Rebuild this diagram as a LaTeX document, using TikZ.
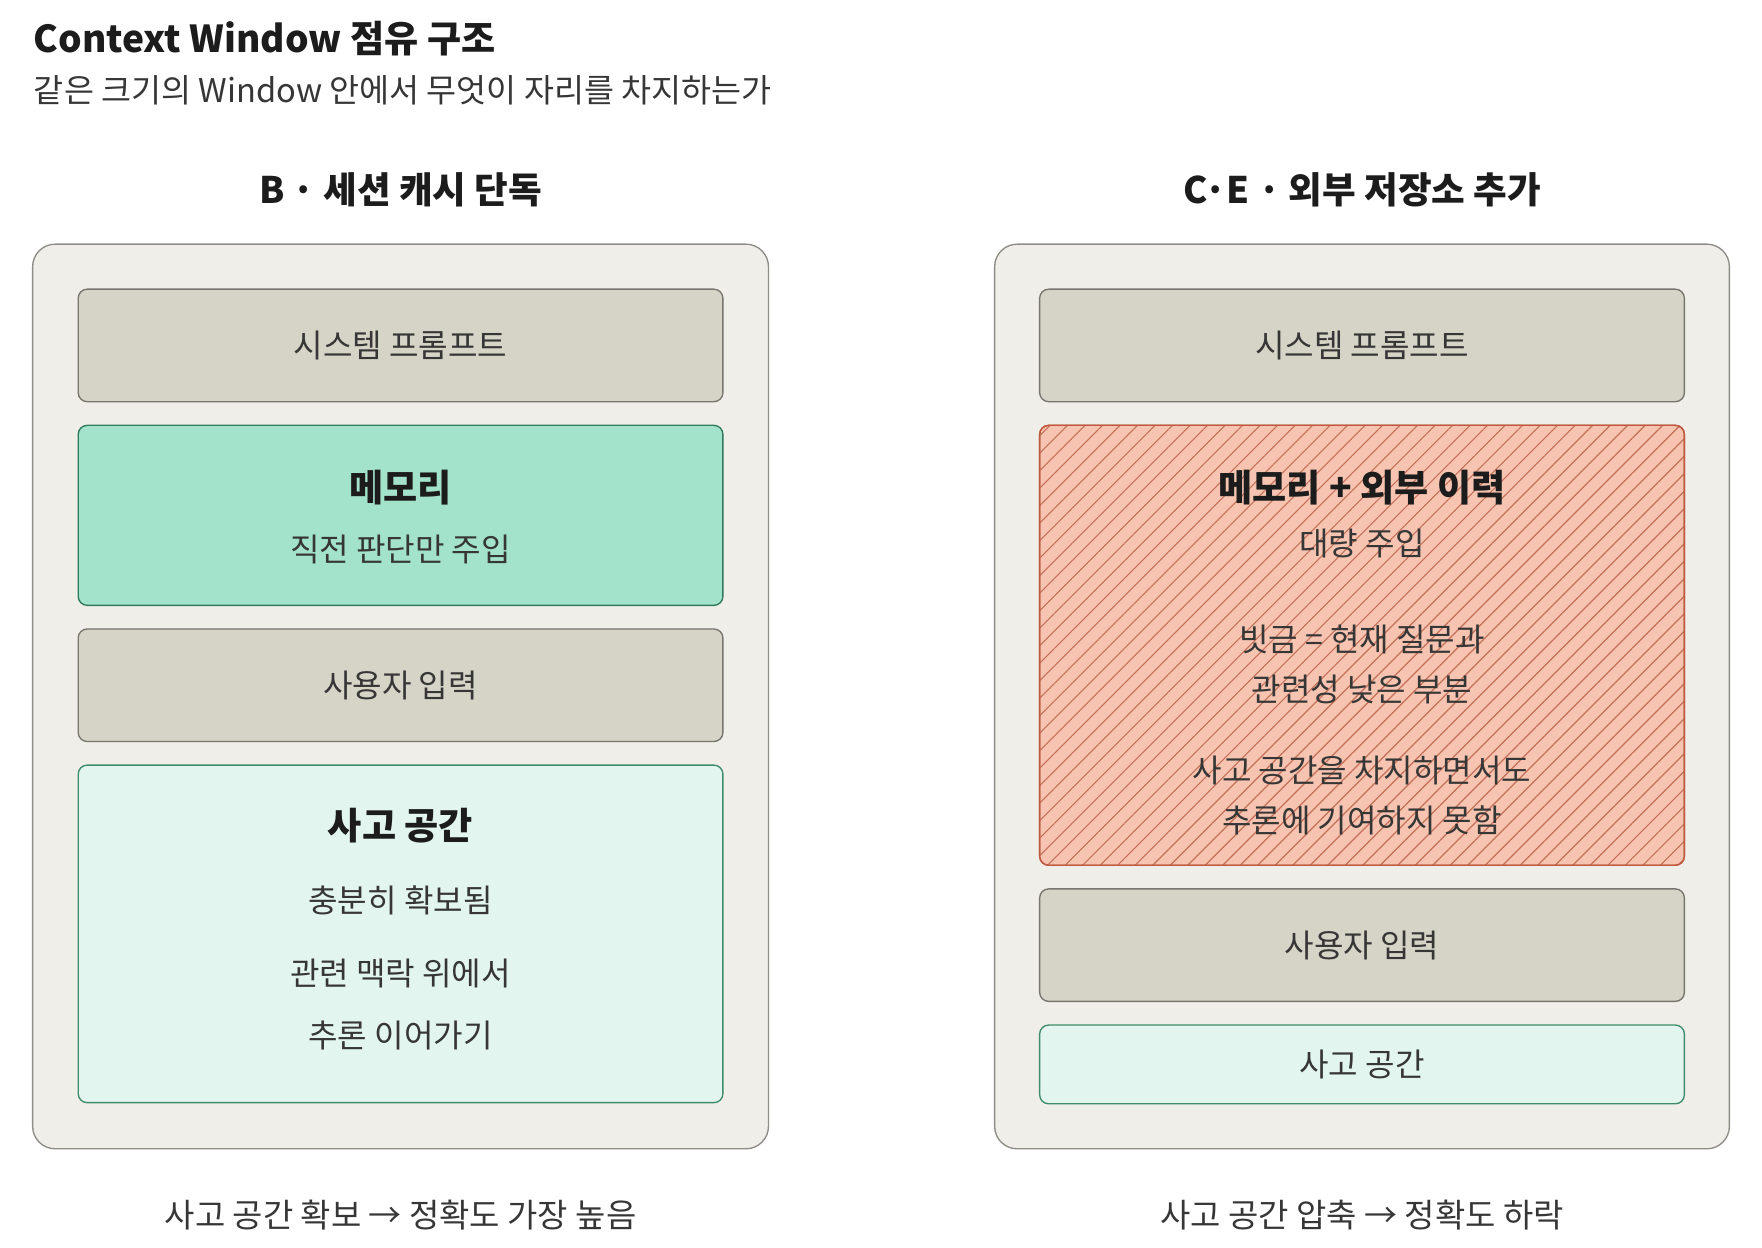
\documentclass[tikz,border=0pt]{standalone}
\usepackage{fontspec}
\setmainfont{Noto Sans CJK KR}
\usetikzlibrary{positioning,patterns.meta}
\definecolor{winfill}{HTML}{F0EEE9}
\definecolor{winline}{HTML}{8E8C86}
\definecolor{fixfill}{HTML}{D6D3C7}
\definecolor{fixline}{HTML}{77756E}
\definecolor{memfill}{HTML}{A3E3CB}
\definecolor{memline}{HTML}{2F7A5C}
\definecolor{thkfill}{HTML}{E2F5EE}
\definecolor{thkline}{HTML}{3E8C6C}
\definecolor{noisefill}{HTML}{F6C4B1}
\definecolor{noiseline}{HTML}{BF5A40}
\definecolor{hatch}{HTML}{C56F58}
\definecolor{txt}{HTML}{363636}
\definecolor{head}{HTML}{1C1C1C}

\begin{document}
\begin{tikzpicture}[x=1pt,y=1pt,
node distance=21pt,
    win/.style = {rectangle, draw=winline, fill=winfill, line width=1.2pt,
                  rounded corners=20pt, minimum width=654pt, minimum height=804pt,
                  outer sep=0pt},
    blk/.style = {rectangle, line width=1.2pt, rounded corners=8pt,% blocks inside a window
                  minimum width=573pt, inner sep=0pt, outer sep=0pt,
                  text=txt, font=\fontsize{28.5}{32}\selectfont},
  fixed/.style = {blk, draw=fixline, fill=fixfill},
    mem/.style = {blk, draw=memline, fill=memfill},
  think/.style = {blk, draw=thkline, fill=thkfill},
  noise/.style = {blk, draw=noiseline, fill=noisefill,
                  postaction={pattern={Lines[angle=45,distance=11pt,line width=1pt]},
                              pattern color=hatch},
                  postaction={draw=noiseline, line width=1.2pt}},
   bold/.style = {text=head, font=\fontsize{33}{37}\selectfont\bfseries},
   body/.style = {text=txt, font=\fontsize{28.5}{32}\selectfont},
 column/.style = {text=head, font=\fontsize{32.5}{37}\selectfont\bfseries},
                        ]
\useasboundingbox (0,0) rectangle (1566,-1109);
% title
\node (title) [anchor=base west, inner sep=0pt, text=head,
               font=\fontsize{33}{38}\selectfont\bfseries] at (30,-47) {Context Window 점유 구조};
\node (sub) [anchor=base west, inner sep=0pt, text=txt,
             font=\fontsize{29}{33}\selectfont] at (30,-91) {같은 크기의 Window 안에서 무엇이 자리를 차지하는가};
% left window
\node (WB) [win] at (356,-619) {};
\node (HB) [column, anchor=base] at (356,-181) {B · 세션 캐시 단독};
\node (B1) [fixed, minimum height=100pt, below=40pt of WB.north] {시스템 프롬프트};
\node (B2) [mem, minimum height=160pt, below=of B1] {};
\node (B3) [fixed, minimum height=100pt, below=of B2] {사용자 입력};
\node (B4) [think, minimum height=300pt, below=of B3] {};
\node (B2a) [bold] at ([yshift=-55pt] B2.north) {메모리};
\node (B2b) [body] at ([yshift=-110pt] B2.north) {직전 판단만 주입};
\node (B4a) [bold] at ([yshift=-54pt] B4.north) {사고 공간};
\node (B4b) [body] at ([yshift=-120pt] B4.north) {충분히 확보됨};
\node (B4c) [body] at ([yshift=-185pt] B4.north) {관련 맥락 위에서};
\node (B4d) [body] at ([yshift=-240pt] B4.north) {추론 이어가기};
\node (FB) [body, font=\fontsize{29.3}{33}\selectfont] at (356,-1080) {사고 공간 확보 → 정확도 가장 높음};
% right window
\node (WC) [win, minimum width=653pt] at (1210.5,-619) {};
\node (HC) [column, anchor=base] at (1210.5,-181) {C·E · 외부 저장소 추가};
\node (C1) [fixed, minimum height=100pt, below=40pt of WC.north] {시스템 프롬프트};
\node (C2) [noise, minimum height=391pt, below=of C1] {};
\node (C3) [fixed, minimum height=100pt, below=of C2] {사용자 입력};
\node (C4) [think, minimum height=70pt, below=of C3] {사고 공간};
\node (C2a) [bold] at ([yshift=-55pt] C2.north) {메모리 + 외부 이력};
\node (C2b) [body] at ([yshift=-105pt] C2.north) {대량 주입};
\node (C2c) [body] at ([yshift=-190pt] C2.north) {빗금 = 현재 질문과};
\node (C2d) [body] at ([yshift=-235pt] C2.north) {관련성 낮은 부분};
\node (C2e) [body] at ([yshift=-307pt] C2.north) {사고 공간을 차지하면서도};
\node (C2f) [body] at ([yshift=-351pt] C2.north) {추론에 기여하지 못함};
\node (FC) [body, font=\fontsize{29.3}{33}\selectfont] at (1210.5,-1080) {사고 공간 압축 → 정확도 하락};
\end{tikzpicture}
\end{document}
